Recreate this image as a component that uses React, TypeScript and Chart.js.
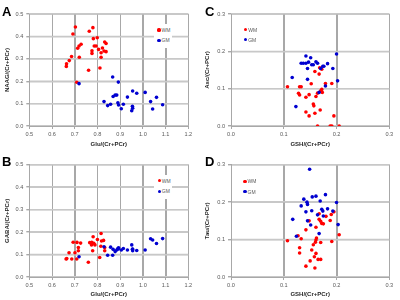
import React, { useEffect, useRef, useState } from "react";
import { Chart, registerables } from "chart.js";

Chart.register(...registerables);

// ---------- data ----------
const wmLabel = "WM";
const gmLabel = "GM";

const gluTicks = ["0.5", "0.6", "0.7", "0.8", "0.9", "1.0", "1.1", "1.2"];
const naaTicks = ["0.0", "0.1", "0.2", "0.3", "0.4", "0.5"];
const gshTicks = ["0.0", "0.1", "0.2", "0.3"];
const smallTicks = ["0.0", "0.1", "0.2", "0.3"];

// Panel A: NAAG vs Glu
const gluWmA = [0.703, 0.692, 0.764, 0.780, 0.782, 0.799, 0.728, 0.719, 0.713, 0.786, 0.794, 0.805, 0.822, 0.832, 0.838, 0.829, 0.838, 0.816, 0.776, 0.776, 0.686, 0.720, 0.816, 0.676, 0.664, 0.663, 0.761, 0.811, 0.709];
const naagWm = [0.442, 0.411, 0.423, 0.439, 0.390, 0.394, 0.365, 0.357, 0.347, 0.357, 0.357, 0.342, 0.348, 0.375, 0.368, 0.335, 0.332, 0.327, 0.336, 0.324, 0.310, 0.307, 0.307, 0.292, 0.278, 0.266, 0.249, 0.259, 0.195];
const gluGmA = [0.719, 0.867, 0.892, 0.829, 0.845, 0.858, 0.869, 0.878, 0.885, 0.890, 0.893, 0.905, 0.914, 0.932, 0.955, 0.973, 0.954, 0.955, 0.951, 1.010, 1.034, 1.043, 1.060, 1.087];
const naagGm = [0.189, 0.219, 0.196, 0.109, 0.091, 0.097, 0.132, 0.138, 0.138, 0.104, 0.094, 0.077, 0.097, 0.129, 0.156, 0.146, 0.088, 0.079, 0.068, 0.150, 0.109, 0.076, 0.128, 0.095];

// Panel B: GABA vs Glu
const gluWmB = [0.816, 0.781, 0.800, 0.766, 0.775, 0.784, 0.693, 0.710, 0.726, 0.818, 0.827, 0.774, 0.789, 0.815, 0.832, 0.716, 0.716, 0.832, 0.779, 0.675, 0.701, 0.662, 0.687, 0.709, 0.810, 0.760, 0.665];
const gabaWm = [0.194, 0.179, 0.167, 0.153, 0.155, 0.150, 0.155, 0.154, 0.151, 0.160, 0.163, 0.143, 0.143, 0.137, 0.131, 0.131, 0.117, 0.117, 0.117, 0.108, 0.108, 0.080, 0.080, 0.080, 0.087, 0.066, 0.082];
const gluGmB = [0.719, 0.829, 0.845, 0.858, 0.867, 0.869, 0.878, 0.885, 0.890, 0.892, 0.893, 0.905, 0.914, 0.932, 0.951, 0.954, 0.955, 0.973, 1.010, 1.034, 1.043, 1.060, 1.087, 0.955];
const gabaGm = [0.090, 0.135, 0.097, 0.133, 0.097, 0.123, 0.113, 0.120, 0.127, 0.125, 0.130, 0.120, 0.127, 0.120, 0.143, 0.123, 0.117, 0.118, 0.120, 0.170, 0.165, 0.149, 0.171, 0.125];

// Panel C: Asc vs GSH
const gshWmC = [0.107, 0.130, 0.133, 0.128, 0.130, 0.142, 0.148, 0.152, 0.159, 0.168, 0.172, 0.167, 0.179, 0.191, 0.172, 0.170, 0.173, 0.164, 0.161, 0.156, 0.157, 0.169, 0.142, 0.159, 0.148, 0.195, 0.164, 0.188, 0.191, 0.205];
const ascWm = [0.105, 0.105, 0.105, 0.0875, 0.083, 0.077, 0.084, 0.113, 0.146, 0.156, 0.152, 0.139, 0.114, 0.114, 0.098, 0.094, 0.090, 0.088, 0.079, 0.059, 0.054, 0.043, 0.0375, 0.034, 0.027, 0.027, 0.0, 0.0, 0.0, 0.0];
const gshGmC = [0.142, 0.151, 0.200, 0.133, 0.137, 0.142, 0.147, 0.161, 0.164, 0.153, 0.156, 0.145, 0.174, 0.176, 0.183, 0.193, 0.170, 0.116, 0.145, 0.202, 0.179, 0.167, 0.123];
const ascGm = [0.1875, 0.183, 0.193, 0.168, 0.168, 0.168, 0.171, 0.172, 0.168, 0.164, 0.164, 0.154, 0.160, 0.160, 0.167, 0.154, 0.154, 0.130, 0.125, 0.121, 0.107, 0.090, 0.052];

// Panel D: Tau vs GSH
const gshWmD = [0.195, 0.190, 0.167, 0.180, 0.148, 0.167, 0.170, 0.172, 0.175, 0.161, 0.188, 0.142, 0.205, 0.191, 0.127, 0.133, 0.107, 0.162, 0.161, 0.160, 0.170, 0.130, 0.130, 0.156, 0.161, 0.153, 0.158, 0.150, 0.165, 0.170, 0.142, 0.159];
const tauWm = [0.174, 0.167, 0.169, 0.162, 0.150, 0.154, 0.149, 0.143, 0.142, 0.133, 0.151, 0.126, 0.113, 0.095, 0.110, 0.102, 0.097, 0.104, 0.099, 0.093, 0.092, 0.078, 0.064, 0.086, 0.063, 0.072, 0.054, 0.043, 0.047, 0.047, 0.029, 0.024];
const gshGmD = [0.149, 0.138, 0.144, 0.145, 0.154, 0.161, 0.179, 0.169, 0.133, 0.200, 0.172, 0.174, 0.183, 0.193, 0.142, 0.153, 0.164, 0.175, 0.117, 0.145, 0.151, 0.203, 0.167, 0.124];
const tauGm = [0.288, 0.208, 0.200, 0.194, 0.214, 0.216, 0.220, 0.203, 0.190, 0.199, 0.181, 0.176, 0.182, 0.176, 0.174, 0.177, 0.166, 0.163, 0.154, 0.150, 0.139, 0.140, 0.116, 0.109];

// ---------- styling ----------
const RED = "#ff0000";
const BLUE = "#0000d0";
const FONT = "'Liberation Sans', Arial, sans-serif";
const TICK_COLOR = "#595959";
const TITLE_COLOR = "#262626";
const VGRID = "#a8a8a8";
const HGRID = "#c8c8c8";

type PanelProps = {
  left: number;
  top: number;
  letter: string;
  letterX: number;
  xTicks: string[];
  yTicks: string[];
  xTitle: string;
  yTitle: string;
  wmX: number[];
  wmY: number[];
  gmX: number[];
  gmY: number[];
  padTop: number;
  padRight: number;
  yWidth: number;
  xHeight: number;
  legendX: number;
  legendY: number;
  legendBox: boolean;
};

type GridGeom = { left: number; right: number; top: number; bottom: number; xs: number[]; ys: number[] };

function labelFor(list: string[]) {
  return (v: any) => {
    const n = Number(v);
    const hit = list.find((s) => Math.abs(Number(s) - n) < 1e-6);
    return hit === undefined ? "" : hit;
  };
}

function Panel(p: PanelProps) {
  const ref = useRef<HTMLCanvasElement | null>(null);
  const [geom, setGeom] = useState<GridGeom | null>(null);
  useEffect(() => {
    if (!ref.current) return;
    const xVals = p.xTicks.map(Number);
    const yVals = p.yTicks.map(Number);
    const gridPlugin = {
      id: "panelGrid",
      beforeDraw(chart: any) {
        const ctx = chart.ctx as CanvasRenderingContext2D;
        const area = chart.chartArea;
        const xs = chart.scales.x;
        const ys = chart.scales.y;
        if (!area || !xs || !ys) return;
        ctx.save();
        ctx.lineWidth = 1.4;
        ctx.strokeStyle = HGRID;
        for (const v of yVals.slice(1)) {
          const y = ys.getPixelForValue(v);
          ctx.beginPath();
          ctx.moveTo(area.left, y);
          ctx.lineTo(area.right, y);
          ctx.stroke();
        }
        ctx.lineWidth = 1;
        ctx.strokeStyle = VGRID;
        for (const v of xVals.slice(1)) {
          const x = Math.round(xs.getPixelForValue(v)) + 0.5;
          ctx.beginPath();
          ctx.moveTo(x, area.top);
          ctx.lineTo(x, area.bottom);
          ctx.stroke();
        }
        ctx.restore();
      },
    };
    const chart = new Chart(ref.current, {
      type: "scatter",
      data: {
        datasets: [
          {
            label: wmLabel,
            data: p.wmX.map((x, i) => ({ x, y: p.wmY[i] })),
            backgroundColor: RED,
            borderColor: RED,
            borderWidth: 0,
            pointRadius: 1.8,
            order: 1,
          },
          {
            label: gmLabel,
            data: p.gmX.map((x, i) => ({ x, y: p.gmY[i] })),
            backgroundColor: BLUE,
            borderColor: BLUE,
            borderWidth: 0,
            pointRadius: 1.8,
            order: 0,
          },
        ],
      },
      options: {
        animation: false,
        responsive: false,
        layout: { padding: { top: p.padTop, right: p.padRight, left: 0, bottom: 0 } },
        plugins: { legend: { display: false }, tooltip: { enabled: false } },
        scales: {
          x: {
            type: "linear",
            min: xVals[0],
            max: xVals[xVals.length - 1],
            ticks: {
              stepSize: 0.1,
              callback: labelFor(p.xTicks),
              font: { family: FONT, size: 5.6 },
              color: TICK_COLOR,
              padding: 2,
              maxRotation: 0,
              autoSkip: false,
            },
            grid: { display: true, drawOnChartArea: true, color: VGRID, lineWidth: 1, tickLength: 3, drawTicks: true, tickColor: VGRID },
            border: { display: true, color: VGRID, width: 1 },
            title: {
              display: true,
              text: p.xTitle,
              font: { family: FONT, size: 6, weight: "bold" },
              color: TITLE_COLOR,
              padding: { top: 0, bottom: 2.5 },
            },
            afterFit: (s: any) => {
              s.height = p.xHeight;
            },
          },
          y: {
            type: "linear",
            min: yVals[0],
            max: yVals[yVals.length - 1],
            ticks: {
              stepSize: 0.1,
              callback: labelFor(p.yTicks),
              font: { family: FONT, size: 5.6 },
              color: TICK_COLOR,
              padding: 3,
              autoSkip: false,
            },
            grid: { display: true, drawOnChartArea: true, color: HGRID, lineWidth: 1.4, tickLength: 3, drawTicks: true, tickColor: VGRID },
            border: { display: true, color: VGRID, width: 1 },
            title: {
              display: true,
              text: p.yTitle,
              font: { family: FONT, size: 6, weight: "bold" },
              color: TITLE_COLOR,
              padding: { top: 3.8, bottom: 0 },
            },
            afterFit: (s: any) => {
              s.width = p.yWidth;
            },
          },
        },
      } as any,
      plugins: [gridPlugin],
    });
    // grid geometry taken from the chart's own scales, drawn again behind the canvas
    const area = chart.chartArea;
    const sx: any = chart.scales.x;
    const sy: any = chart.scales.y;
    setGeom({
      left: area.left,
      right: area.right,
      top: area.top,
      bottom: area.bottom,
      xs: xVals.slice(1).map((v) => sx.getPixelForValue(v)),
      ys: yVals.slice(1).map((v) => sy.getPixelForValue(v)),
    });
    return () => chart.destroy();
  }, []);

  const rows = [
    { c: RED, t: wmLabel, y: p.legendY + 0.5 },
    { c: BLUE, t: gmLabel, y: p.legendY + 10.8 },
  ];
  return (
    <div style={{ position: "absolute", left: p.left, top: p.top, width: 200, height: 150 }}>
      {geom &&
        geom.ys.map((y, i) => (
          <div
            key={"h" + i}
            style={{ position: "absolute", left: geom.left, top: y - 0.7, width: geom.right - geom.left, height: 1.4, background: HGRID }}
          />
        ))}
      {geom &&
        geom.xs.map((x, i) => (
          <div
            key={"v" + i}
            style={{ position: "absolute", left: Math.round(x), top: geom.top, width: 1, height: geom.bottom - geom.top, background: VGRID }}
          />
        ))}
      <canvas ref={ref} width={200} height={150} style={{ display: "block", position: "relative" }} />
      <div
        style={{
          position: "absolute",
          left: p.letterX,
          top: 4,
          font: `bold 13px ${FONT}`,
          lineHeight: "15px",
          color: "#000",
        }}
      >
        {p.letter}
      </div>
      {p.legendBox && (
        <div
          style={{
            position: "absolute",
            left: p.legendX - 5,
            top: p.legendY - 5.5,
            width: 18,
            height: 24,
            background: "#fff",
          }}
        />
      )}
      {rows.map((r) => (
        <React.Fragment key={r.t}>
          <div
            style={{
              position: "absolute",
              left: p.legendX - 1.6,
              top: r.y - 1.6,
              width: 3.2,
              height: 3.2,
              borderRadius: "50%",
              background: r.c,
            }}
          />
          <div
            style={{
              position: "absolute",
              left: p.legendX + 2.5,
              top: r.y - 3,
              font: `5px ${FONT}`,
              lineHeight: "6px",
              color: TICK_COLOR,
              whiteSpace: "nowrap",
            }}
          >
            {r.t}
          </div>
        </React.Fragment>
      ))}
    </div>
  );
}

export default function App() {
  return (
    <div style={{ position: "fixed", left: 0, top: 0, width: 400, height: 300, background: "#fff", overflow: "hidden" }}>
      <Panel
        left={0} top={0} letter="A" letterX={2}
        xTicks={gluTicks} yTicks={naaTicks}
        xTitle="Glu/(Cr+PCr)" yTitle="NAAG/(Cr+PCr)"
        wmX={gluWmA} wmY={naagWm} gmX={gluGmA} gmY={naagGm}
        padTop={14} padRight={11.7} yWidth={29.3} xHeight={24}
        legendX={159} legendY={29.5} legendBox={true}
      />
      <Panel
        left={200} top={0} letter="C" letterX={5}
        xTicks={gshTicks} yTicks={smallTicks}
        xTitle="GSH/(Cr+PCr)" yTitle="Asc/(Cr+PCr)"
        wmX={gshWmC} wmY={ascWm} gmX={gshGmC} gmY={ascGm}
        padTop={14} padRight={10.7} yWidth={31} xHeight={24}
        legendX={45.7} legendY={29} legendBox={false}
      />
      <Panel
        left={0} top={150} letter="B" letterX={2}
        xTicks={gluTicks} yTicks={naaTicks}
        xTitle="Glu/(Cr+PCr)" yTitle="GABA/(Cr+PCr)"
        wmX={gluWmB} wmY={gabaWm} gmX={gluGmB} gmY={gabaGm}
        padTop={14.7} padRight={11.7} yWidth={29.3} xHeight={23}
        legendX={159.3} legendY={30.3} legendBox={true}
      />
      <Panel
        left={200} top={150} letter="D" letterX={5}
        xTicks={gshTicks} yTicks={smallTicks}
        xTitle="GSH/(Cr+PCr)" yTitle="Tau/(Cr+PCr)"
        wmX={gshWmD} wmY={tauWm} gmX={gshGmD} gmY={tauGm}
        padTop={14.7} padRight={10.7} yWidth={31} xHeight={23}
        legendX={45} legendY={30.7} legendBox={false}
      />
    </div>
  );
}
